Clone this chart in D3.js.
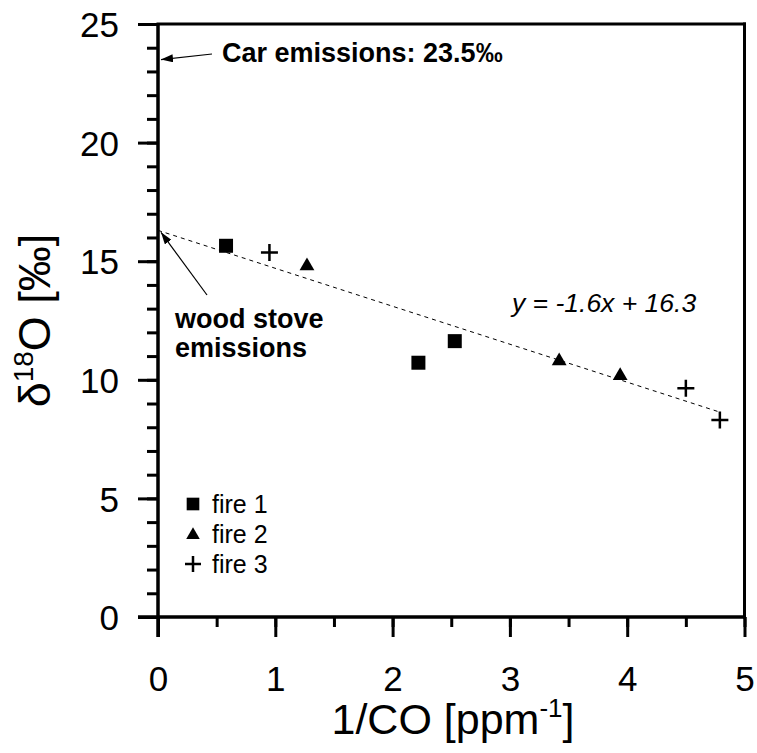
<!DOCTYPE html>
<html>
<head>
<meta charset="utf-8">
<script src="https://cdn.jsdelivr.net/npm/d3@7"></script>
<style>
  html, body { margin: 0; padding: 0; background: #fff; }
  svg { display: block; font-family: "Liberation Sans", Arial, Helvetica, sans-serif; }
</style>
</head>
<body>
<script>
// ---- data ----
const fire1X = [0.58, 2.22, 2.53];
const fire1Y = [15.65, 10.72, 11.63];
const fire2X = [1.27, 3.42, 3.94];
const fire2Y = [14.80, 10.79, 10.17];
const fire3X = [0.95, 4.50, 4.79];
const fire3Y = [15.37, 9.64, 8.31];
const seriesNames = ["fire 1", "fire 2", "fire 3"];
const fitSlope = -1.6;
const fitIntercept = 16.3;
const fitXRange = [0, 4.78];
const carEmission = 23.5;
const xTicks = [0, 1, 2, 3, 4, 5];
const yTicks = [0, 5, 10, 15, 20, 25];

// ---- layout ----
const W = 757, H = 753;
const x = d3.scaleLinear().domain([0, 5]).range([158, 744.5]);
const y = d3.scaleLinear().domain([0, 25]).range([617, 24]);

const svg = d3.select("body").append("svg").attr("width", W).attr("height", H);

// frame (top and right)
svg.append("line").attr("x1", x(0)).attr("x2", x(5)).attr("y1", y(25)).attr("y2", y(25))
  .attr("stroke", "#000").attr("stroke-width", 3).attr("stroke-linecap", "square");
svg.append("line").attr("x1", x(5)).attr("x2", x(5)).attr("y1", y(25)).attr("y2", y(0))
  .attr("stroke", "#000").attr("stroke-width", 3).attr("stroke-linecap", "square");

// x axis
const xMinor = d3.range(0, 5.01, 0.5);
const gx = svg.append("g").attr("transform", `translate(0,${y(0)})`);
gx.call(d3.axisBottom(x).tickValues(xMinor).tickSize(10).tickFormat(""));
gx.append("g").call(d3.axisBottom(x).tickValues(xTicks).tickSize(20).tickFormat(d3.format("d")));
gx.selectAll("path.domain").attr("stroke-width", 3).attr("d", `M${x(0) - 20},0H${x(5)}`);
gx.selectAll(".tick line").attr("stroke-width", 3);
gx.selectAll(".tick text").attr("font-size", 35).attr("fill", "#000")
  .attr("dy", null).attr("y", 74).attr("font-family", "Liberation Sans, Arial, sans-serif");

// y axis
const yMinor = d3.range(0, 25.01, 1);
const gy = svg.append("g").attr("transform", `translate(${x(0)},0)`);
gy.call(d3.axisLeft(y).tickValues(yMinor).tickSize(11).tickFormat(""));
gy.append("g").call(d3.axisLeft(y).tickValues(yTicks).tickSize(20).tickFormat(d3.format("d")));
gy.selectAll("path.domain").attr("stroke-width", 3).attr("d", `M0,${y(25)}V${y(0) + 20}`);
gy.selectAll(".tick line").attr("stroke-width", 3);
gy.selectAll(".tick text").attr("font-size", 35).attr("fill", "#000")
  .attr("x", -39).attr("dy", "0.36em").attr("font-family", "Liberation Sans, Arial, sans-serif");

// axis labels
const xl = svg.append("text").attr("x", 453).attr("y", 734).attr("text-anchor", "middle")
  .attr("font-size", 43);
xl.append("tspan").text("1/CO [ppm");
xl.append("tspan").attr("font-size", 26).attr("dy", -17).text("-1");
xl.append("tspan").attr("dy", 17).text("]");

const yl = svg.append("text").attr("transform", `translate(50,${(y(0) + y(25)) / 2}) rotate(-90)`)
  .attr("text-anchor", "middle").attr("font-size", 45);
yl.append("tspan").text("δ");
yl.append("tspan").attr("font-size", 28).attr("dy", -17).text("18");
yl.append("tspan").attr("dy", 17).text("O [‰]");

// regression line
svg.append("line")
  .attr("x1", x(fitXRange[0])).attr("y1", y(fitIntercept + fitSlope * fitXRange[0]))
  .attr("x2", x(fitXRange[1])).attr("y2", y(fitIntercept + fitSlope * fitXRange[1]))
  .attr("stroke", "#000").attr("stroke-width", 1).attr("stroke-dasharray", "4,4");

// markers
const sq = d3.symbol().type(d3.symbolSquare).size(196);
const tri = d3.symbol().type(d3.symbolTriangle).size(95);
function plusPath(s) { return `M${-s / 2},0H${s / 2}M0,${-s / 2}V${s / 2}`; }

svg.append("g").selectAll("path").data(d3.zip(fire1X, fire1Y)).join("path")
  .attr("d", sq).attr("fill", "#000")
  .attr("transform", d => `translate(${x(d[0])},${y(d[1])})`);
svg.append("g").selectAll("path").data(d3.zip(fire2X, fire2Y)).join("path")
  .attr("d", tri).attr("fill", "#000")
  .attr("transform", d => `translate(${x(d[0])},${y(d[1])})`);
svg.append("g").selectAll("path").data(d3.zip(fire3X, fire3Y)).join("path")
  .attr("d", plusPath(17)).attr("stroke", "#000").attr("stroke-width", 2.5).attr("fill", "none")
  .attr("transform", d => `translate(${x(d[0])},${y(d[1])})`);

// legend
const lg = svg.append("g");
const legY = [504, 534, 564];
lg.append("path").attr("d", d3.symbol().type(d3.symbolSquare).size(160)).attr("fill", "#000")
  .attr("transform", `translate(193,${legY[0]})`);
lg.append("path").attr("d", d3.symbol().type(d3.symbolTriangle).size(80)).attr("fill", "#000")
  .attr("transform", `translate(193,${legY[1] + 1})`);
lg.append("path").attr("d", plusPath(16)).attr("stroke", "#000").attr("stroke-width", 2.5)
  .attr("transform", `translate(193,${legY[2]})`);
lg.selectAll("text").data(seriesNames).join("text")
  .attr("x", 212).attr("y", (d, i) => legY[i] + 9).attr("font-size", 25).text(d => d);

// equation
svg.append("text").attr("x", 512).attr("y", 312).attr("font-size", 26.5)
  .attr("font-style", "italic").text("y = -1.6x + 16.3");

// arrows
const defs = svg.append("defs");
defs.append("marker").attr("id", "ah").attr("viewBox", "0 0 12 8").attr("refX", 12).attr("refY", 4)
  .attr("markerWidth", 12).attr("markerHeight", 8).attr("markerUnits", "userSpaceOnUse")
  .attr("orient", "auto")
  .append("path").attr("d", "M0,0L12,4L0,8Z").attr("fill", "#000");

svg.append("line").attr("x1", 212).attr("y1", 54).attr("x2", x(0) + 3).attr("y2", y(carEmission))
  .attr("stroke", "#000").attr("stroke-width", 1.2).attr("marker-end", "url(#ah)");
svg.append("text").attr("x", 222).attr("y", 62).attr("font-size", 27).attr("font-weight", "bold")
  .text(`Car emissions: ${carEmission}‰`);

svg.append("line").attr("x1", 207).attr("y1", 295).attr("x2", x(0) + 3).attr("y2", y(fitIntercept) + 2)
  .attr("stroke", "#000").attr("stroke-width", 1.2).attr("marker-end", "url(#ah)");
svg.append("text").attr("x", 175).attr("y", 328).attr("font-size", 27).attr("font-weight", "bold")
  .text("wood stove");
svg.append("text").attr("x", 175).attr("y", 357).attr("font-size", 27).attr("font-weight", "bold")
  .text("emissions");
</script>
</body>
</html>
